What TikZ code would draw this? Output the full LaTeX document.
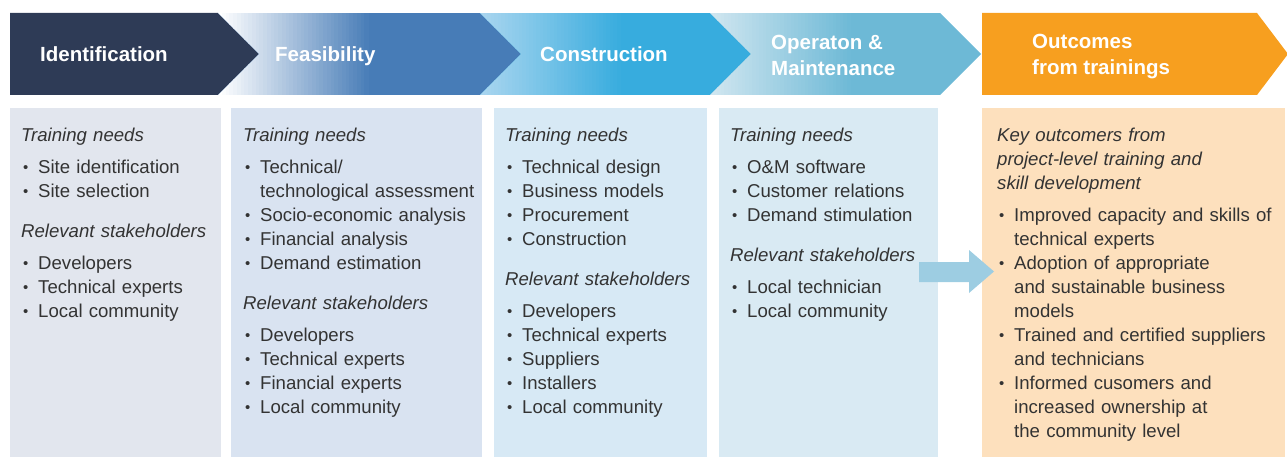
\documentclass[tikz,border=0pt]{standalone}
\usepackage{fontspec}
\setmainfont{Liberation Sans}
\usepackage{graphicx}

\definecolor{idnavy}{HTML}{2E3B56}
\definecolor{feasblue}{HTML}{477CB7}
\definecolor{consblue}{HTML}{37ACDE}
\definecolor{consstart}{HTML}{A9D5EF}
\definecolor{omblue}{HTML}{6DB9D6}
\definecolor{omstart}{HTML}{D0E6F0}
\definecolor{outorange}{HTML}{F79F1F}
\definecolor{idbox}{HTML}{E2E6EE}
\definecolor{feasbox}{HTML}{D9E3F1}
\definecolor{consbox}{HTML}{D7E9F5}
\definecolor{ombox}{HTML}{D9EAF3}
\definecolor{outbox}{HTML}{FDE0BD}
\definecolor{arrowblue}{HTML}{9DCDE2}
\definecolor{textgray}{HTML}{333333}

% column text helpers
\newcommand{\colhead}[1]{\noindent\textit{#1}\par\vspace{8pt}}
\newcommand{\colitem}[1]{\hangindent=17pt\hangafter=1\noindent\makebox[17pt][l]{\hspace{2pt}\raisebox{1.5pt}{\scalebox{0.8}{\textbullet}}}#1\par}
\newcommand{\colgap}{\vspace{16pt}}

% fading strips inside a clipped chevron: start colour, end colour, left x, span
\newcommand{\fadestrips}[4]{%
  \foreach \i in {0,...,39} {
    \pgfmathsetmacro{\p}{100-\i*2.5}
    \fill[#1!\p!#2] (#3+\i*#4/40,13) rectangle (#3+\i*#4/40+#4/40+0.6,95);
  }}

\tikzset{
  headtext/.style={text=white, font=\fontsize{20.5}{26}\selectfont\bfseries, align=left, inner sep=0pt},
  coltext/.style={text=textgray, font=\fontsize{18.6}{24}\selectfont, anchor=north west, inner sep=0pt, text width=#1},
  coltext/.default=260pt
}

\begin{document}
\begin{tikzpicture}[x=1pt, y=-1pt]
  \useasboundingbox (0,0) rectangle (1287,457);

  % Phase chevrons
  \fill[idnavy] (10,13) -- (218,13) -- (259,54) -- (218,95) -- (10,95) -- cycle;
  \begin{scope}
    \clip (218,13) -- (480,13) -- (521,54) -- (480,95) -- (218,95) -- (259,54) -- cycle;
    \fill[feasblue] (218,13) rectangle (522,95);
    \fadestrips{white}{feasblue}{218}{150}
  \end{scope}
  \begin{scope}
    \clip (480,13) -- (710,13) -- (751,54) -- (710,95) -- (480,95) -- (521,54) -- cycle;
    \fill[consblue] (480,13) rectangle (752,95);
    \fadestrips{consstart}{consblue}{480}{140}
  \end{scope}
  \begin{scope}
    \clip (710,13) -- (940,13) -- (981,54) -- (940,95) -- (710,95) -- (751,54) -- cycle;
    \fill[omblue] (710,13) rectangle (982,95);
    \fadestrips{omstart}{omblue}{710}{140}
  \end{scope}
  \fill[outorange] (982,13) -- (1257,13) -- (1288,54) -- (1257,95) -- (982,95) -- cycle;

  % Phase titles
  \node[headtext, anchor=base west] (idhead) at (40,61.5) {Identification};
  \node[headtext, anchor=base west] (feashead) at (275,61.5) {Feasibility};
  \node[headtext, anchor=base west] (conshead) at (540,61.5) {Construction};
  \node[headtext, anchor=west] (omhead) at (771,55) {Operaton \&\\Maintenance};
  \node[headtext, anchor=west] (outhead) at (1032,57) {Outcomes\\from trainings};

  % Column backgrounds
  \fill[idbox] (10,108) rectangle (221,457);
  \fill[feasbox] (231,108) rectangle (482,457);
  \fill[consbox] (494,108) rectangle (707,457);
  \fill[ombox] (719,108) rectangle (938,457);
  \fill[outbox] (982,108) rectangle (1285,457);

  % Block arrow into outcomes
  \fill[arrowblue] (919,262) -- (969,262) -- (969,250) -- (994,271.5) -- (969,293) -- (969,282) -- (919,282) -- cycle;

  % Identification
  \node[coltext] (idtext) at (21,128) {%
    \colhead{Training needs}
    \colitem{Site identification}
    \colitem{Site selection}
    \colgap
    \colhead{Relevant stakeholders}
    \colitem{Developers}
    \colitem{Technical experts}
    \colitem{Local community}};

  % Feasibility
  \node[coltext] (feastext) at (243,128) {%
    \colhead{Training needs}
    \colitem{Technical/\newline technological assessment}
    \colitem{Socio-economic analysis}
    \colitem{Financial analysis}
    \colitem{Demand estimation}
    \colgap
    \colhead{Relevant stakeholders}
    \colitem{Developers}
    \colitem{Technical experts}
    \colitem{Financial experts}
    \colitem{Local community}};

  % Construction
  \node[coltext] (constext) at (505,128) {%
    \colhead{Training needs}
    \colitem{Technical design}
    \colitem{Business models}
    \colitem{Procurement}
    \colitem{Construction}
    \colgap
    \colhead{Relevant stakeholders}
    \colitem{Developers}
    \colitem{Technical experts}
    \colitem{Suppliers}
    \colitem{Installers}
    \colitem{Local community}};

  % Operation & maintenance
  \node[coltext] (omtext) at (730,128) {%
    \colhead{Training needs}
    \colitem{O\&M software}
    \colitem{Customer relations}
    \colitem{Demand stimulation}
    \colgap
    \colhead{Relevant stakeholders}
    \colitem{Local technician}
    \colitem{Local community}};

  % Outcomes
  \node[coltext=290pt] (outtext) at (997,128) {%
    \colhead{Key outcomers from\newline project-level training and\newline skill development}
    \colitem{Improved capacity and skills of\newline technical experts}
    \colitem{Adoption of appropriate\newline and sustainable business\newline models}
    \colitem{Trained and certified suppliers\newline and technicians}
    \colitem{Informed cusomers and\newline increased ownership at\newline the community level}};

\end{tikzpicture}
\end{document}
